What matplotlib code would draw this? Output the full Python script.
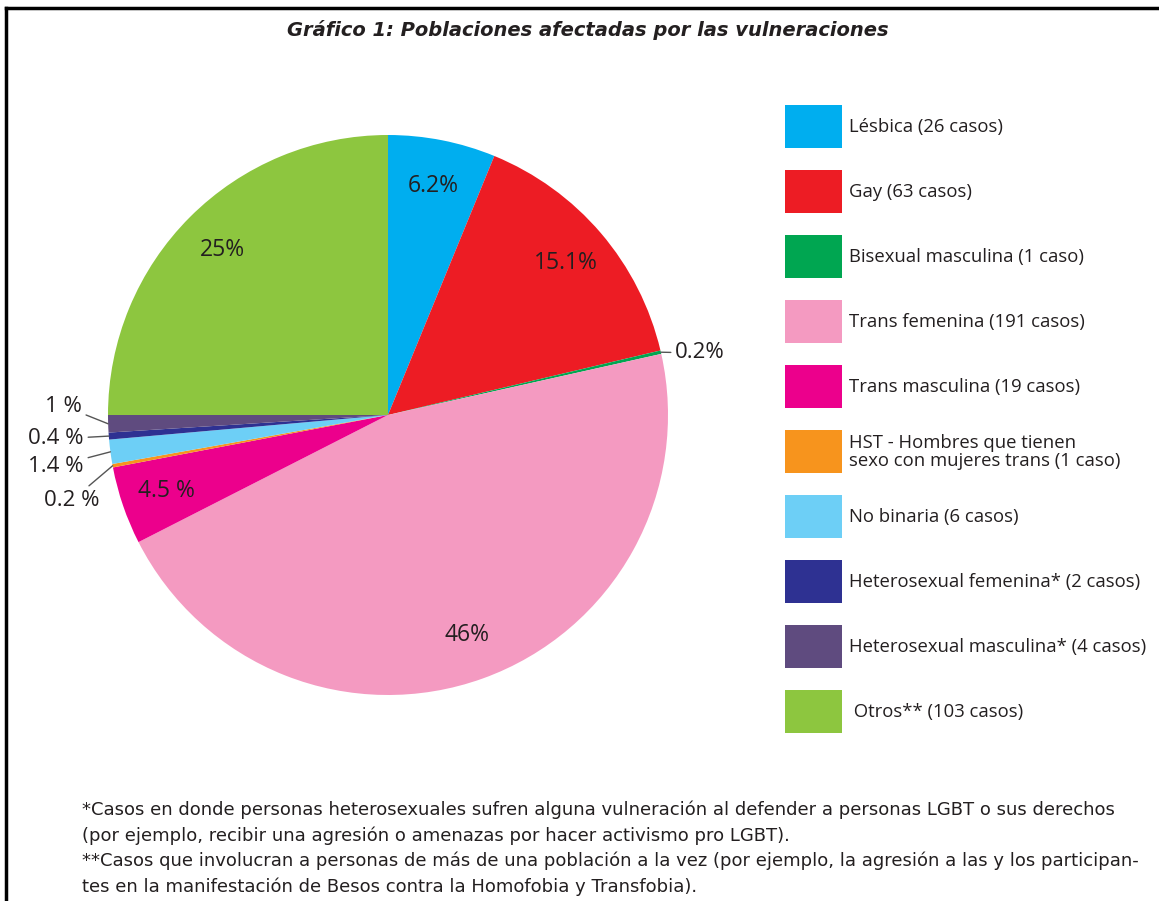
import matplotlib.pyplot as plt
from matplotlib.patches import Rectangle
from matplotlib.lines import Line2D
import numpy as np

# datos del gráfico
categorias = ["Lésbica (26 casos)", "Gay (63 casos)", "Bisexual masculina (1 caso)",
              "Trans femenina (191 casos)", "Trans masculina (19 casos)",
              "HST - Hombres que tienen\nsexo con mujeres trans (1 caso)",
              "No binaria (6 casos)", "Heterosexual femenina* (2 casos)",
              "Heterosexual masculina* (4 casos)", " Otros** (103 casos)"]
porcentajes = [6.2, 15.1, 0.2, 46, 4.5, 0.2, 1.4, 0.4, 1, 25]
etiquetas = ["6.2%", "15.1%", "0.2%", "46%", "4.5 %", "0.2 %", "1.4 %", "0.4 %", "1 %", "25%"]
colores = ["#00aeef", "#ed1c24", "#00a651", "#f49ac1", "#ec008c",
           "#f7941d", "#6dcff6", "#2e3192", "#5f4b7f", "#8dc63f"]

# etiquetas externas: indice -> posicion del texto (pixeles de imagen)
externas = {2: (675, 353, "left"), 5: (100, 500, "right"), 6: (84, 466, "right"),
            7: (84, 439, "right"), 8: (82, 406, "right")}

W, H = 1159, 901
txt_color = "#231f20"
fuente = ["Open Sans", "DejaVu Sans"]


def Y(y):
    # coordenada y de imagen -> datos
    return H - y


fig = plt.figure(figsize=(W / 100, H / 100), dpi=100)
ax = fig.add_axes([0, 0, 1, 1])

cx, cy, r = 388, 415, 280
wedges, _ = ax.pie(porcentajes, colors=colores, startangle=90, counterclock=False,
                   center=(cx, Y(cy)), radius=r, wedgeprops=dict(linewidth=0))

for i, w in enumerate(wedges):
    ang = np.deg2rad((w.theta1 + w.theta2) / 2)
    if i in externas:
        tx, ty, ha = externas[i]
        borde = (cx + r * np.cos(ang), Y(cy) + r * np.sin(ang))
        ax.annotate(etiquetas[i], xy=borde, xytext=(tx, Y(ty)), ha=ha, va="center",
                    fontsize=16, color=txt_color, family=fuente,
                    arrowprops=dict(arrowstyle="-", color="#555555", lw=1,
                                    shrinkA=1, shrinkB=0))
    else:
        ax.text(cx + 0.835 * r * np.cos(ang), Y(cy) + 0.835 * r * np.sin(ang), etiquetas[i],
                ha="center", va="center", fontsize=16.5, color=txt_color, family=fuente)

# leyenda manual
for i, (cat, col) in enumerate(zip(categorias, colores)):
    top = 105 + 65 * i
    ax.add_patch(Rectangle((785, Y(top + 43)), 57, 43, facecolor=col, edgecolor="none"))
    ax.text(849, Y(top + 22), cat, ha="left", va="center", fontsize=13.3,
            color=txt_color, family=fuente, linespacing=1.0)

ax.text(588, Y(30), "Gráfico 1: Poblaciones afectadas por las vulneraciones",
        ha="center", va="center", fontsize=14, fontweight="bold", fontstyle="italic",
        color=txt_color, family="DejaVu Sans")

notas = ["*Casos en donde personas heterosexuales sufren alguna vulneración al defender a personas LGBT o sus derechos",
         "(por ejemplo, recibir una agresión o amenazas por hacer activismo pro LGBT).",
         "**Casos que involucran a personas de más de una población a la vez (por ejemplo, la agresión a las y los participan-",
         "tes en la manifestación de Besos contra la Homofobia y Transfobia)."]
for j, nota in enumerate(notas):
    ax.text(82, Y(810 + 25.5 * j), nota, ha="left", va="center", fontsize=13,
            color=txt_color, family="DejaVu Sans")

ax.set_xlim(0, W)
ax.set_ylim(0, H)
ax.axis("off")

# marco
fig.add_artist(Line2D([6 / W, 1], [1 - 8 / H, 1 - 8 / H], color="black", lw=2.5))
fig.add_artist(Line2D([6 / W, 6 / W], [0, 1 - 8 / H], color="black", lw=2.5))

plt.savefig("out.png", dpi=100)
